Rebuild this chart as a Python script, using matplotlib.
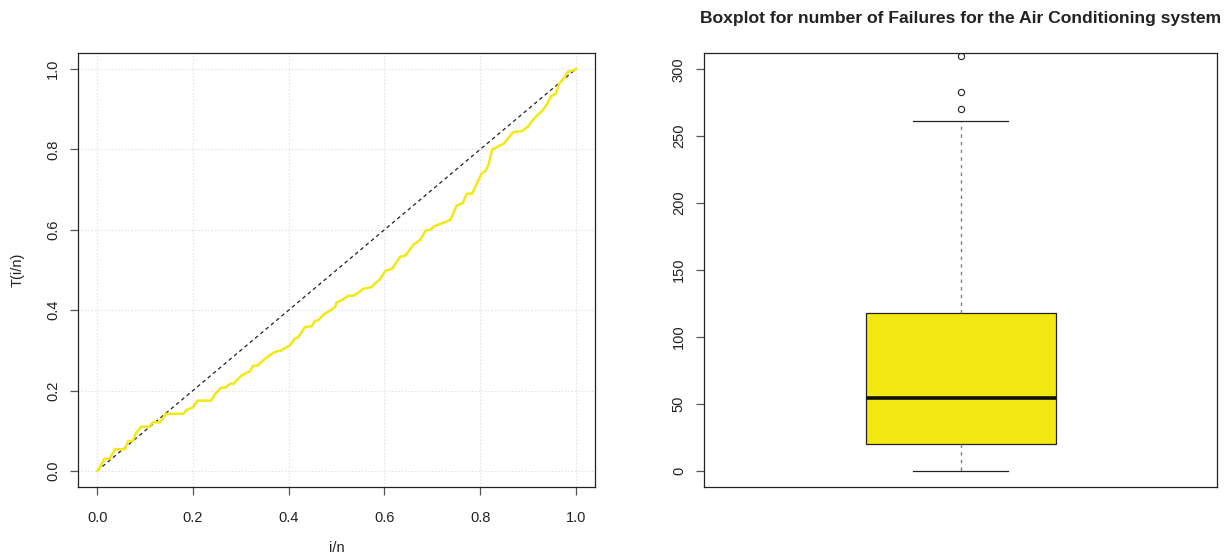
"""TTT plot and boxplot for the air conditioning failure data."""

import matplotlib
matplotlib.use("Agg")
import matplotlib.pyplot as plt

# ---------------------------------------------------------------------------
# Data
# ---------------------------------------------------------------------------

# scaled total time on test curve, T(i/n) against i/n
ttt_u = [0.000, 0.007, 0.015, 0.026, 0.037, 0.058, 0.064, 0.075, 0.080, 0.092,
         0.109, 0.116, 0.131, 0.144, 0.180, 0.187, 0.200, 0.210, 0.238, 0.247,
         0.259, 0.267, 0.278, 0.285, 0.301, 0.319, 0.326, 0.335, 0.347, 0.361,
         0.371, 0.385, 0.396, 0.403, 0.413, 0.420, 0.434, 0.448, 0.455, 0.462,
         0.472, 0.483, 0.497, 0.500, 0.511, 0.525, 0.535, 0.546, 0.556, 0.574,
         0.581, 0.591, 0.602, 0.616, 0.633, 0.644, 0.661, 0.675, 0.686, 0.696,
         0.703, 0.717, 0.727, 0.738, 0.751, 0.764, 0.772, 0.783, 0.794, 0.804,
         0.811, 0.818, 0.825, 0.836, 0.850, 0.869, 0.888, 0.900, 0.907, 0.916,
         0.930, 0.939, 0.948, 0.958, 0.965, 0.976, 0.983, 0.993, 1.000]
ttt_t = [0.000, 0.012, 0.030, 0.030, 0.054, 0.054, 0.073, 0.075, 0.092, 0.110,
         0.110, 0.121, 0.121, 0.142, 0.142, 0.152, 0.158, 0.175, 0.175, 0.192,
         0.207, 0.207, 0.217, 0.217, 0.237, 0.248, 0.262, 0.262, 0.275, 0.288,
         0.296, 0.300, 0.308, 0.313, 0.329, 0.333, 0.358, 0.360, 0.373, 0.375,
         0.388, 0.396, 0.408, 0.419, 0.425, 0.436, 0.436, 0.444, 0.453, 0.458,
         0.467, 0.477, 0.498, 0.503, 0.533, 0.536, 0.563, 0.575, 0.598, 0.600,
         0.608, 0.615, 0.619, 0.625, 0.660, 0.667, 0.690, 0.690, 0.717, 0.742,
         0.746, 0.763, 0.800, 0.806, 0.815, 0.843, 0.846, 0.857, 0.868, 0.881,
         0.896, 0.911, 0.932, 0.939, 0.963, 0.979, 0.993, 0.996, 1.000]

# five-number summary of the failure counts, plus the outlying points
box_lower = 0
box_q1 = 20
box_median = 54
box_q3 = 118
box_upper = 261
box_outliers = [270, 283, 310]

unit_ticks = [0.0, 0.2, 0.4, 0.6, 0.8, 1.0]
count_ticks = [0, 50, 100, 150, 200, 250, 300]

# ---------------------------------------------------------------------------
# Style
# ---------------------------------------------------------------------------

plt.rcParams["font.family"] = ["Liberation Sans", "DejaVu Sans"]
plt.rcParams["font.size"] = 10.5

INK = "#222222"
TICK = "#555555"
YELLOW = "#F4E813"

W, H = 1232, 559
fig = plt.figure(figsize=(W / 100, H / 100), dpi=100)


def px_axes(x0, y0, x1, y1):
    return fig.add_axes([x0 / W, 1 - y1 / H, (x1 - x0) / W, (y1 - y0) / H])


def r_style(ax):
    for sp in ax.spines.values():
        sp.set_color(INK)
        sp.set_linewidth(0.9)
    ax.tick_params(length=6, width=0.9, color=TICK, labelcolor=INK,
                   labelsize=10.5)
    ax.tick_params(axis="x", pad=11)
    ax.tick_params(axis="y", pad=7)
    for lab in ax.get_yticklabels():
        lab.set_rotation(90)
        lab.set_va("center")


# ---------------------------------------------------------------------------
# TTT plot
# ---------------------------------------------------------------------------

ax1 = px_axes(78, 53, 595, 487)
ax1.set_xlim(-0.04, 1.04)
ax1.set_ylim(-0.04, 1.04)
ax1.set_xticks(unit_ticks)
ax1.set_yticks(unit_ticks)
ax1.set_xticklabels([f"{v:.1f}" for v in unit_ticks])
ax1.set_yticklabels([f"{v:.1f}" for v in unit_ticks])
ax1.grid(True, color="#d8d8d8", linestyle=(0, (1, 2)), linewidth=0.8)
ax1.set_axisbelow(True)
ax1.plot([0, 1], [0, 1], color="#222222", linestyle=(0, (3, 2.5)),
         linewidth=0.9)
ax1.plot(ttt_u, ttt_t, color=YELLOW, linewidth=1.8)
r_style(ax1)

fig.text(337 / W, 1 - 548 / H, "i/n", ha="center", va="center",
         color=INK, fontsize=10.5)
fig.text(18 / W, 1 - 270 / H, "T(i/n)", ha="center", va="center",
         rotation=90, color=INK, fontsize=10.5)

# ---------------------------------------------------------------------------
# Boxplot
# ---------------------------------------------------------------------------

ax2 = px_axes(704, 53, 1217, 487)
stats = [{
    "whislo": box_lower,
    "q1": box_q1,
    "med": box_median,
    "q3": box_q3,
    "whishi": box_upper,
    "fliers": box_outliers,
}]
ax2.bxp(
    stats,
    positions=[1],
    widths=0.4,
    capwidths=0.2,
    patch_artist=True,
    boxprops=dict(facecolor=YELLOW, edgecolor=INK, linewidth=0.9),
    medianprops=dict(color="#111111", linewidth=2.6),
    whiskerprops=dict(color="#808080", linestyle=(0, (2.5, 3)), linewidth=1.0),
    capprops=dict(color=INK, linewidth=0.9),
    flierprops=dict(marker="o", markersize=4.5, markerfacecolor="none",
                    markeredgecolor=INK, markeredgewidth=0.8),
)
ax2.set_xlim(0.46, 1.54)
ax2.set_ylim(-12.2, 312.2)
ax2.set_xticks([])
ax2.set_yticks(count_ticks)
ax2.set_yticklabels([str(v) for v in count_ticks])
r_style(ax2)

fig.text(960.5 / W, 1 - 18 / H,
         "Boxplot for number of Failures for the Air Conditioning system",
         ha="center", va="center", fontsize=12.6, fontweight="bold", color=INK)

fig.savefig("out.png", dpi=100)
